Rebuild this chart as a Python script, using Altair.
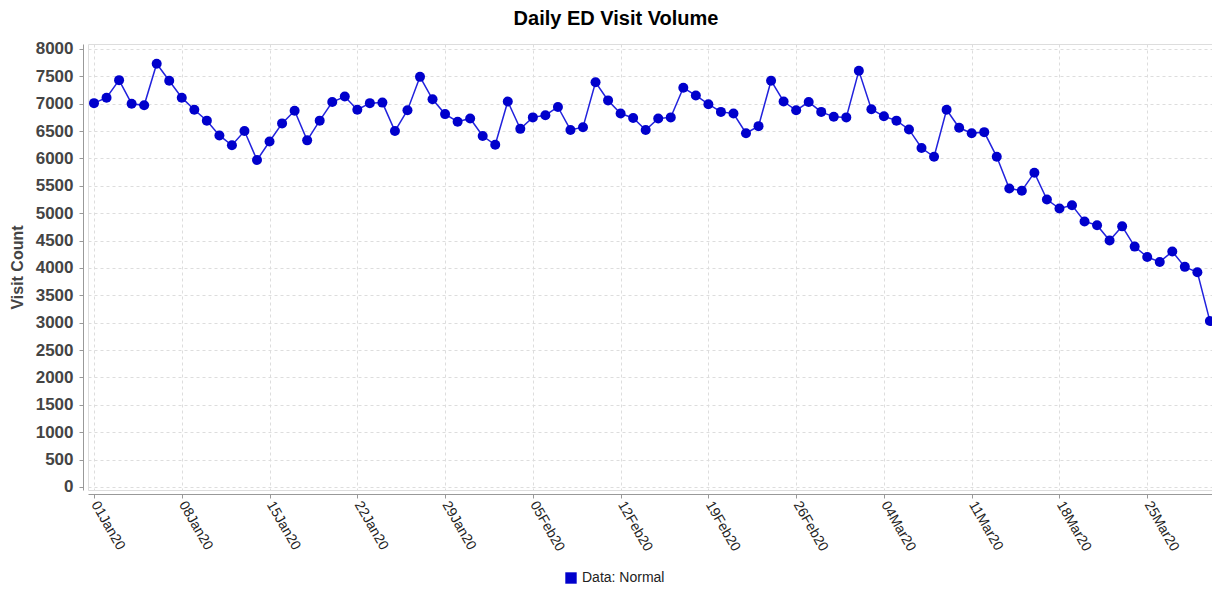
import altair as alt
import pandas as pd

jan = [7010, 7110, 7430, 7000, 6970, 7730, 7420, 7110, 6890, 6690,
       6420, 6240, 6500, 5970, 6310, 6640, 6870, 6330, 6690, 7030,
       7130, 6890, 7010, 7020, 6500, 6880, 7490, 7080, 6810, 6670, 6730]
feb = [6410, 6250, 7040, 6540, 6750, 6790, 6940, 6520, 6570, 7390,
       7060, 6820, 6740, 6520, 6730, 6750, 7290, 7150, 6990, 6850,
       6820, 6460, 6590, 7420, 7040, 6880, 7030, 6850, 6760]
mar = [6750, 7600, 6900, 6770, 6690, 6530, 6190, 6030, 6890, 6560,
       6460, 6480, 6030, 5450, 5410, 5740, 5250, 5085, 5145, 4850,
       4780, 4500, 4760, 4390, 4200, 4110, 4300, 4020, 3920, 3030]

values = jan + feb + mar
dates = pd.date_range("2020-01-01", periods=len(values), freq="D").strftime("%Y-%m-%d").tolist()
tick_dates = ["2020-01-01", "2020-01-08", "2020-01-15", "2020-01-22", "2020-01-29",
              "2020-02-05", "2020-02-12", "2020-02-19", "2020-02-26", "2020-03-04",
              "2020-03-11", "2020-03-18", "2020-03-25"]
y_ticks = list(range(0, 8001, 500))
series_name = "Data: Normal"

df = pd.DataFrame({"date": dates, "visits": values, "series": series_name})

FONT = "Liberation Sans"
BLUE = "#0000CC"

x_enc = alt.X(
    "date:T",
    scale=alt.Scale(type="utc",
                    domain=[alt.DateTime(year=2019, month=12, date=31, hours=12, minutes=30, utc=True),
                            alt.DateTime(year=2020, month=3, date=30, hours=4, utc=True)]),
    axis=alt.Axis(
        title=None,
        values=[alt.DateTime(year=int(d[:4]), month=int(d[5:7]), date=int(d[8:]), utc=True) for d in tick_dates],
        labelExpr="utcFormat(datum.value, '%d%b%y')",
        labelAngle=60,
        labelAlign="left",
        labelBaseline="middle",
        labelFont=FONT,
        labelFontSize=14,
        labelColor="#222222",
        labelPadding=4,
        labelOverlap=False,
        labelBound=False,
        labelFlush=False,
        tickColor="#999999",
        tickSize=4,
        domainColor="#999999",
        offset=4,
        grid=True,
        gridColor="#dddddd",
        gridDash=[3, 3],
    ),
)

y_enc = alt.Y(
    "visits:Q",
    scale=alt.Scale(domain=[-55, 8090], nice=False, zero=False),
    axis=alt.Axis(
        title="Visit Count",
        titleFont=FONT,
        titleFontSize=16,
        titleFontWeight="bold",
        titleColor="#444444",
        titlePadding=10,
        values=y_ticks,
        format="d",
        labelFont=FONT,
        labelFontSize=17,
        labelFontWeight="bold",
        labelColor="#444444",
        labelPadding=6,
        tickColor="#999999",
        tickSize=4,
        domainColor="#999999",
        offset=5,
        grid=True,
        gridColor="#dddddd",
        gridDash=[3, 3],
    ),
)

line = alt.Chart(df).mark_line(color="#2222DD", strokeWidth=1.5).encode(x=x_enc, y=y_enc)

points = alt.Chart(df).mark_circle(size=100, opacity=1).encode(
    x=x_enc,
    y=y_enc,
    color=alt.Color(
        "series:N",
        scale=alt.Scale(domain=[series_name], range=[BLUE]),
        legend=alt.Legend(
            title=None,
            orient="none",
            legendX=476,
            legendY=527,
            symbolType="square",
            symbolSize=130,
            labelFont=FONT,
            labelFontSize=14,
            labelColor="#222222",
            labelOffset=4,
            symbolStrokeWidth=0,
        ),
    ),
)

chart = (
    alt.layer(line, points)
    .properties(
        width=1124,
        height=446,
        title=alt.TitleParams(
            "Daily ED Visit Volume",
            font=FONT,
            fontSize=20,
            fontWeight="bold",
            color="#000000",
            anchor="middle",
            dx=-34,
            offset=11,
        ),
        autosize=alt.AutoSizeParams(type="none"),
        padding={"left": 80, "top": 36, "right": 0, "bottom": 94},
    )
    .configure_view(stroke="#999999", strokeWidth=1)
    .configure(background="white")
)

chart.save("out.html", embed_options={"renderer": "svg", "actions": False})
